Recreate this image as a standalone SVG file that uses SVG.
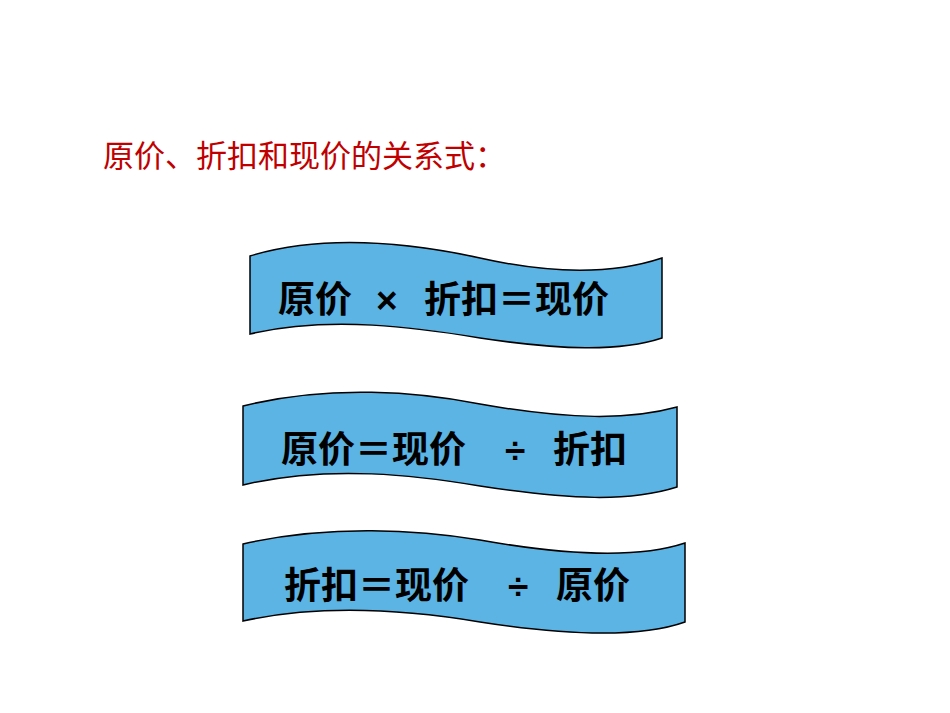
<svg xmlns="http://www.w3.org/2000/svg" width="950" height="713" viewBox="0 0 950 713">
<style>
.b{fill:#5BB4E4;stroke:#000;stroke-width:1.5}
.t{font-family:"Liberation Sans","Noto Sans CJK SC",sans-serif;font-weight:bold;font-size:37px;fill:#000}
.h{font-family:"Liberation Sans","Noto Sans CJK SC",sans-serif;font-size:31px;fill:#C00000}
</style>
<rect width="950" height="713" fill="#fff"/>
<text class="h" x="103" y="167">原价、折扣和现价的关系式：</text>
<g id="n1">
<path class="b" d="M250,256 C330,232 420,245 480,258 C560,276 620,272 662,258 L662,338 C620,352 560,350 480,338 C420,328 330,315 250,334 Z"/>
<text class="t" x="278" y="313">原价</text><text class="t" x="376" y="313" font-weight="normal">×</text><text class="t" x="424" y="313">折扣＝现价</text>
</g>
<g id="n2">
<path class="b" d="M243,406 C330,384 420,392 480,404 C570,420 630,420 677,407 L677,487 C630,502 570,500 480,486 C420,476 330,464 243,485 Z"/>
<text class="t" x="281" y="463">原价＝现价</text><text class="t" x="505" y="463" font-weight="normal">÷</text><text class="t" x="553" y="463">折扣</text>
</g>
<g id="n3">
<path class="b" d="M243,544 C330,524 420,530 480,540 C570,556 640,558 685,543 L685,622 C640,638 570,636 480,622 C420,612 330,602 243,621 Z"/>
<text class="t" x="284" y="599">折扣＝现价</text><text class="t" x="508" y="599" font-weight="normal">÷</text><text class="t" x="556" y="599">原价</text>
</g>
<g id="connectors"/>
</svg>
